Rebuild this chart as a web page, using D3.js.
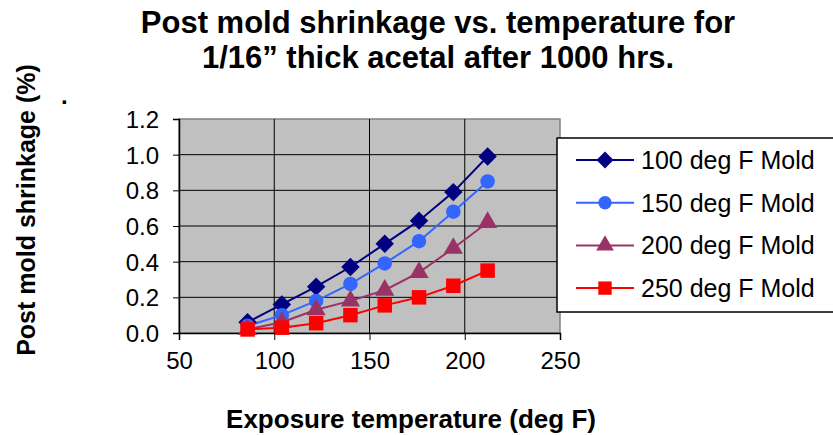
<!DOCTYPE html>
<html>
<head>
<meta charset="utf-8">
<script src="https://cdn.jsdelivr.net/npm/d3@7"></script>
<style>
  body { margin: 0; background: #fff; }
  svg { display: block; font-family: "Liberation Sans", Arial, sans-serif; }
</style>
</head>
<body>
<svg id="chart" width="833" height="435"></svg>
<script>
// exposure temperatures (deg F)
var temps = [86, 104, 122, 140, 158, 176, 194, 212];
var mold100 = [0.06, 0.16, 0.26, 0.37, 0.50, 0.63, 0.79, 0.99];
var mold150 = [0.04, 0.10, 0.18, 0.275, 0.39, 0.515, 0.68, 0.85];
var mold200 = [0.02, 0.06, 0.13, 0.18, 0.24, 0.34, 0.475, 0.62];
var mold250 = [0.02, 0.03, 0.055, 0.10, 0.155, 0.20, 0.265, 0.35];
var seriesNames = ['100 deg F Mold', '150 deg F Mold', '200 deg F Mold', '250 deg F Mold'];
var xTicks = [50, 100, 150, 200, 250];
var yTicks = [0, 0.2, 0.4, 0.6, 0.8, 1.0, 1.2];

// square turned 45deg, same width and height
var rhombus = {
  draw: function(ctx, size) {
    var r = Math.sqrt(size / 2);
    ctx.moveTo(0, -r); ctx.lineTo(r, 0); ctx.lineTo(0, r); ctx.lineTo(-r, 0); ctx.closePath();
  }
};

var series = [
  {name: seriesNames[0], values: mold100, color: '#000080', shape: rhombus, size: 170},
  {name: seriesNames[1], values: mold150, color: '#3366ff', shape: d3.symbolCircle, size: 165},
  {name: seriesNames[2], values: mold200, color: '#993366', shape: d3.symbolTriangle, size: 160},
  {name: seriesNames[3], values: mold250, color: '#ff0000', shape: d3.symbolSquare, size: 210}
];

var svg = d3.select('#chart');
var x = d3.scaleLinear().domain([50, 250]).range([179, 560]);
var y = d3.scaleLinear().domain([0, 1.2]).range([333, 119]);

// plot area
svg.append('rect')
  .attr('x', x(50)).attr('y', y(1.2))
  .attr('width', x(250) - x(50)).attr('height', y(0) - y(1.2))
  .attr('fill', '#c0c0c0').attr('stroke', '#808080').attr('stroke-width', 1.5);

// grid
svg.append('g').selectAll('line').data(yTicks.slice(1, -1)).enter().append('line')
  .attr('x1', x(50)).attr('x2', x(250))
  .attr('y1', function(d) { return y(d); }).attr('y2', function(d) { return y(d); })
  .attr('stroke', '#000').attr('stroke-width', 1);
svg.append('g').selectAll('line').data(xTicks.slice(1, -1)).enter().append('line')
  .attr('y1', y(0)).attr('y2', y(1.2))
  .attr('x1', function(d) { return x(d); }).attr('x2', function(d) { return x(d); })
  .attr('stroke', '#000').attr('stroke-width', 1);

// axes
var xAxis = d3.axisBottom(x).tickValues(xTicks).tickSize(7).tickPadding(12)
  .tickFormat(d3.format('d'));
var gx = svg.append('g').attr('transform', 'translate(0,' + y(0) + ')').call(xAxis);
var yAxis = d3.axisLeft(y).tickValues(yTicks).tickSize(6).tickPadding(14)
  .tickFormat(d3.format('.1f'));
var gy = svg.append('g').attr('transform', 'translate(' + x(50) + ',0)').call(yAxis);
[gx, gy].forEach(function(g) {
  g.select('.domain').attr('stroke', '#000').attr('stroke-width', 1.5);
  g.selectAll('.tick line').attr('stroke', '#000');
  g.selectAll('.tick text').attr('font-size', 24).attr('fill', '#000')
    .attr('font-family', '"Liberation Sans", Arial, sans-serif');
});
gx.selectAll('.tick text').attr('dy', '0.72em');
gy.selectAll('.tick text').attr('dy', '0.36em');

// series
var line = d3.line()
  .x(function(d, i) { return x(temps[i]); })
  .y(function(d) { return y(d); });

series.forEach(function(s) {
  svg.append('path').datum(s.values)
    .attr('d', line).attr('fill', 'none')
    .attr('stroke', s.color).attr('stroke-width', 2);
});
series.forEach(function(s) {
  svg.append('g').selectAll('path').data(s.values).enter().append('path')
    .attr('d', d3.symbol().type(s.shape).size(s.size))
    .attr('transform', function(d, i) { return 'translate(' + x(temps[i]) + ',' + y(d) + ')'; })
    .attr('fill', s.color);
});

// legend
var lg = svg.append('g');
lg.append('rect').attr('x', 557).attr('y', 138).attr('width', 300).attr('height', 174)
  .attr('fill', '#fff').attr('stroke', '#000').attr('stroke-width', 1.5);
series.forEach(function(s, i) {
  var ly = 160 + i * 42.7;
  lg.append('line').attr('x1', 576).attr('x2', 634).attr('y1', ly).attr('y2', ly)
    .attr('stroke', s.color).attr('stroke-width', 2);
  lg.append('path').attr('d', d3.symbol().type(s.shape).size(s.size * 0.85))
    .attr('transform', 'translate(605,' + ly + ')').attr('fill', s.color);
  lg.append('text').attr('x', 641).attr('y', ly + 9).attr('font-size', 25)
    .text(s.name);
});

// titles
svg.append('text').attr('x', 438).attr('y', 33).attr('text-anchor', 'middle')
  .attr('font-size', 31).attr('font-weight', 'bold')
  .text('Post mold shrinkage vs. temperature for');
svg.append('text').attr('x', 438).attr('y', 68).attr('text-anchor', 'middle')
  .attr('font-size', 31).attr('font-weight', 'bold')
  .text('1/16\u201d thick acetal after 1000 hrs.');
svg.append('text').attr('x', 411).attr('y', 428).attr('text-anchor', 'middle')
  .attr('font-size', 26).attr('font-weight', 'bold')
  .text('Exposure temperature (deg F)');
svg.append('text').attr('transform', 'translate(35,210) rotate(-90)')
  .attr('text-anchor', 'middle')
  .attr('font-size', 25).attr('font-weight', 'bold')
  .text('Post mold shrinkage (%)');
svg.append('text').attr('x', 61).attr('y', 104).attr('font-size', 24).attr('font-weight', 'bold')
  .text('.');
</script>
</body>
</html>
